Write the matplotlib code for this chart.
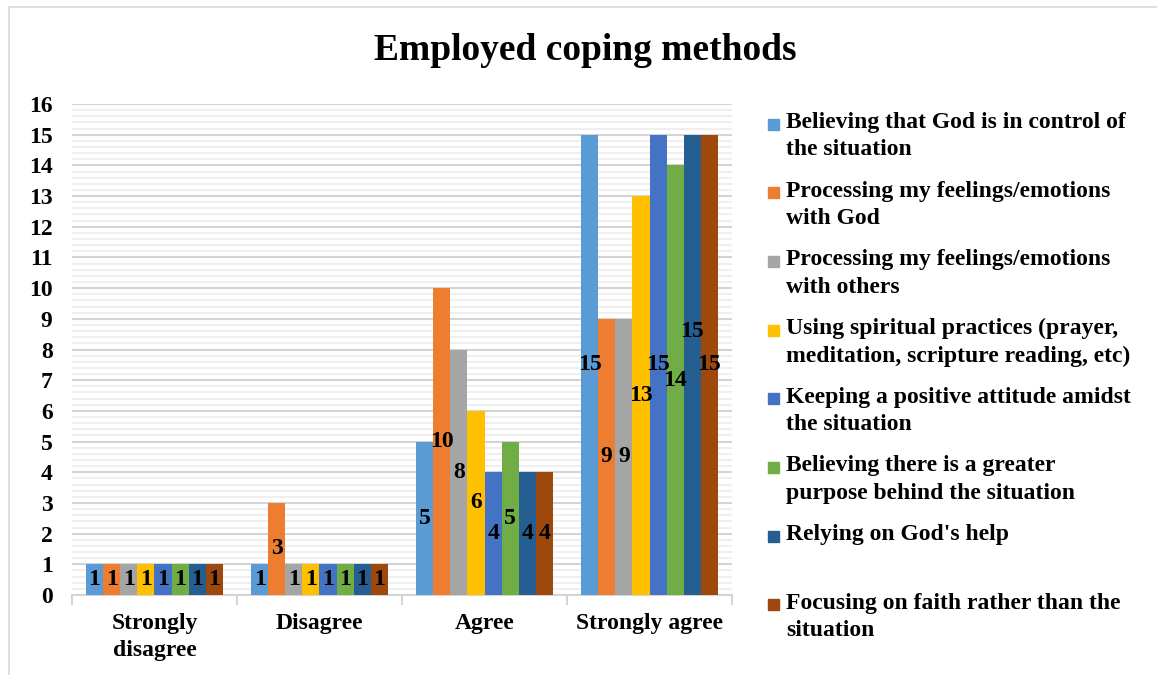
import matplotlib
matplotlib.use("Agg")
import matplotlib.pyplot as plt
import numpy as np
from matplotlib.patches import Rectangle
from matplotlib.ticker import MultipleLocator, FixedLocator

plt.rcParams['font.family'] = ['Liberation Serif', 'DejaVu Serif']
plt.rcParams['font.weight'] = 'bold'

categories = ["Strongly\ndisagree", "Disagree", "Agree", "Strongly agree"]
series_names = [
    "Believing that God is in control of\nthe situation",
    "Processing my feelings/emotions\nwith God",
    "Processing my feelings/emotions\nwith others",
    "Using spiritual practices (prayer,\nmeditation, scripture reading, etc)",
    "Keeping a positive attitude amidst\nthe situation",
    "Believing there is a greater\npurpose behind the situation",
    "Relying on God's help",
    "Focusing on faith rather than the\nsituation",
]
god_control = [1, 1, 5, 15]
feelings_god = [1, 3, 10, 9]
feelings_others = [1, 1, 8, 9]
spiritual_practices = [1, 1, 6, 13]
positive_attitude = [1, 1, 4, 15]
greater_purpose = [1, 1, 5, 14]
gods_help = [1, 1, 4, 15]
faith_focus = [1, 1, 4, 15]
all_series = [god_control, feelings_god, feelings_others, spiritual_practices,
              positive_attitude, greater_purpose, gods_help, faith_focus]
colors = ["#5B9BD5", "#ED7D31", "#A5A5A5", "#FFC000",
          "#4472C4", "#70AD47", "#255E91", "#9E480E"]

fig = plt.figure(figsize=(11.57, 6.75), dpi=100)
ax = fig.add_axes([0.0622, 0.1185, 0.5705, 0.7274])

x = np.arange(len(categories))
n = len(all_series)
group_w = 0.83
bw = group_w / n
for i, (vals, col) in enumerate(zip(all_series, colors)):
    pos = x - group_w / 2 + bw * (i + 0.5)
    bars = ax.bar(pos, vals, bw, color=col, zorder=3)
    for j, (b, v) in enumerate(zip(bars, vals)):
        ly = v / 2
        if i == 6 and j == 3:
            ly += 1.1  # Excel nudged this label up to clear its neighbours
        ax.text(b.get_x() + b.get_width() / 2, ly, str(v), ha='center', va='center',
                fontsize=17, fontweight='bold', zorder=4)

ax.set_xlim(-0.5, 3.5)
ax.set_ylim(0, 16)
ax.yaxis.set_major_locator(MultipleLocator(1))
ax.yaxis.set_minor_locator(MultipleLocator(0.2))
ax.grid(axis='y', which='major', color='#d4d4d4', lw=1.5, zorder=0)
ax.grid(axis='y', which='minor', color='#efefef', lw=1.5, zorder=0)
ax.set_xticks(x)
ax.set_xticklabels(categories, fontsize=17, fontweight='bold', linespacing=1.35)
ax.xaxis.set_minor_locator(FixedLocator([-0.5, 0.5, 1.5, 2.5, 3.5]))
ax.tick_params(axis='x', which='major', length=0, pad=13)
ax.tick_params(axis='x', which='minor', length=7, color='#d4d4d4', width=1.5)
ax.tick_params(axis='y', which='both', length=0, pad=14, labelsize=17)
for lab in ax.get_yticklabels():
    lab.set_fontweight('bold')
for s in ['top', 'right', 'left']:
    ax.spines[s].set_visible(False)
ax.spines['bottom'].set_color('#d4d4d4')
ax.spines['bottom'].set_linewidth(1.5)

fig.text(0.506, 1 - 50 / 675, "Employed coping methods", ha='center', va='center',
         fontsize=27, fontweight='bold')

# legend drawn by hand to keep the Excel-like spacing
W, H = 1157, 675
first_y = 124
step = 68.7
for i, (name, col) in enumerate(zip(series_names, colors)):
    yc = first_y + i * step
    fig.patches.append(Rectangle((768 / W, 1 - (yc + 5.5) / H), 11 / W, 11 / H,
                                 transform=fig.transFigure, color=col))
    fig.text(786 / W, 1 - (yc - 12) / H, name, ha='left', va='top',
             fontsize=17, fontweight='bold', linespacing=1.4)

# outer chart border
fig.patches.append(Rectangle((9 / W, -0.01), 1.1, 1 - 7 / H + 0.01, transform=fig.transFigure,
                             fill=False, ec='#d9d9d9', lw=1.2))

fig.savefig("out.png", dpi=100)
